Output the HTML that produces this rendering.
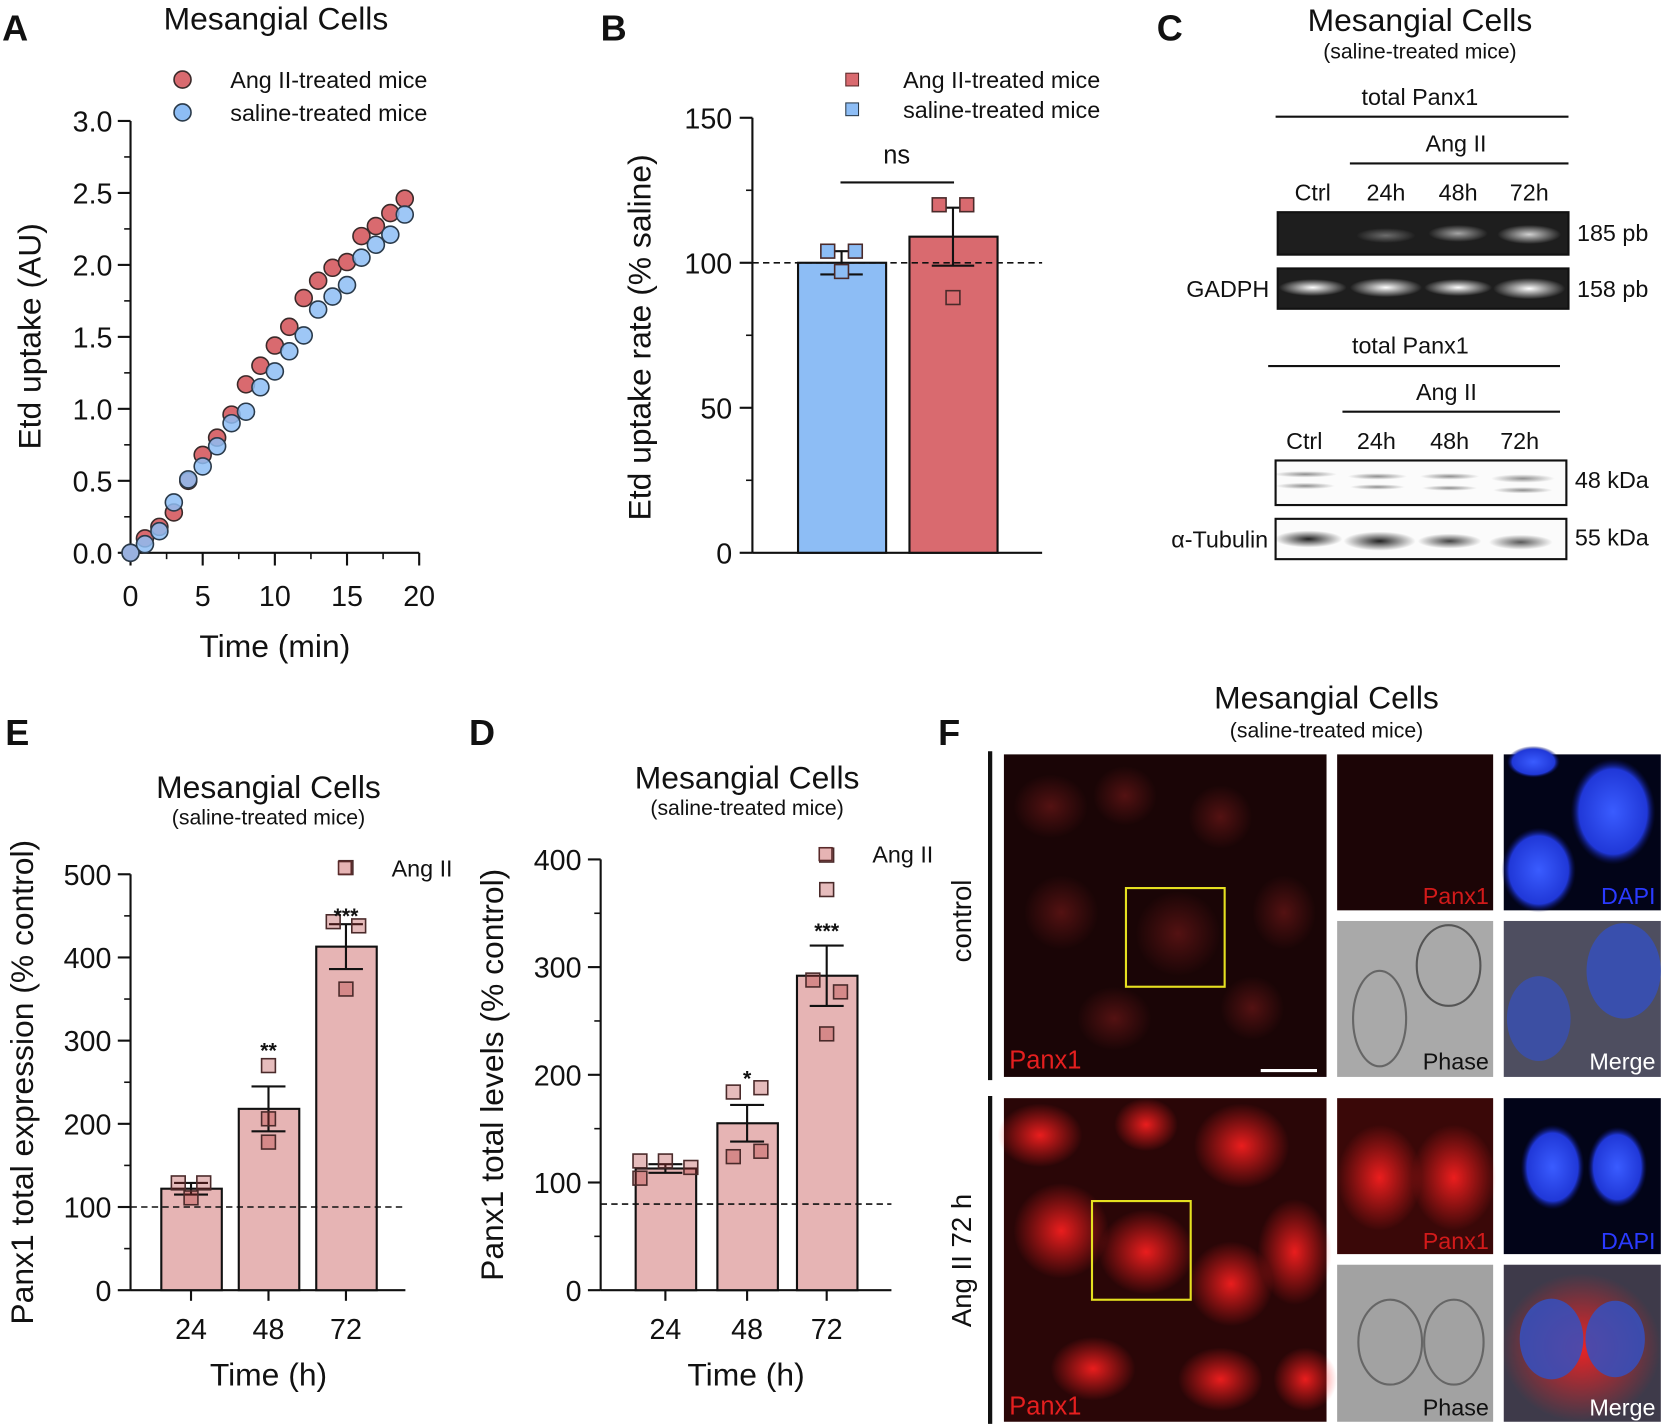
<!DOCTYPE html>
<html><head><meta charset="utf-8"><style>
html,body{margin:0;padding:0;background:#fff}
svg{display:block}
text{font-family:"Liberation Sans",Arial,sans-serif;fill:#111}
</style></head><body>
<svg id="fig" width="1664" height="1426" viewBox="0 0 1568 1344" preserveAspectRatio="none" xmlns="http://www.w3.org/2000/svg">
<defs>
<radialGradient id="band" cx="50%" cy="50%" r="50%"><stop offset="0" stop-color="#fff"/><stop offset="1" stop-color="#fff" stop-opacity="0"/></radialGradient>
<radialGradient id="dband" cx="50%" cy="50%" r="50%"><stop offset="0" stop-color="#222"/><stop offset="1" stop-color="#222" stop-opacity="0"/></radialGradient>
<radialGradient id="redspot" cx="50%" cy="50%" r="50%"><stop offset="0" stop-color="#ff2020" stop-opacity=".9"/><stop offset="1" stop-color="#ff2020" stop-opacity="0"/></radialGradient>
<radialGradient id="dimspot" cx="50%" cy="50%" r="50%"><stop offset="0" stop-color="#7a1a1a" stop-opacity=".6"/><stop offset="1" stop-color="#7a1a1a" stop-opacity="0"/></radialGradient>
<radialGradient id="nuc" cx="50%" cy="50%" r="50%"><stop offset="0" stop-color="#3a5cff"/><stop offset=".8" stop-color="#2038d8"/><stop offset="1" stop-color="#0a1060" stop-opacity="0"/></radialGradient>
</defs>

<text x="2" y="38" font-size="34" font-weight="bold">A</text>
<text x="566" y="38" font-size="34" font-weight="bold">B</text>
<text x="1090" y="38" font-size="34" font-weight="bold">C</text>
<text x="5" y="702" font-size="34" font-weight="bold">E</text>
<text x="442" y="702" font-size="34" font-weight="bold">D</text>
<text x="884" y="702" font-size="34" font-weight="bold">F</text>

<g id="pA"></g>
<g id="pB"></g>
<g id="pE"></g>
<g id="pD"></g>

<g>
<text x="1338" y="29" font-size="30" text-anchor="middle">Mesangial Cells</text>
<text x="1338" y="55" font-size="20" text-anchor="middle">(saline-treated mice)</text>
<text x="1338" y="99" font-size="22" text-anchor="middle">total Panx1</text>
<line x1="1202" y1="110" x2="1478" y2="110" stroke="#111" stroke-width="2"/>
<text x="1372" y="143" font-size="22" text-anchor="middle">Ang II</text>
<line x1="1272" y1="154" x2="1478" y2="154" stroke="#111" stroke-width="2"/>
<text x="1237" y="189" font-size="22" text-anchor="middle">Ctrl</text>
<text x="1306" y="189" font-size="22" text-anchor="middle">24h</text>
<text x="1374" y="189" font-size="22" text-anchor="middle">48h</text>
<text x="1441" y="189" font-size="22" text-anchor="middle">72h</text>
<rect x="1204" y="200" width="274" height="40" fill="#1e1e1e" stroke="#111" stroke-width="2"/>
<ellipse cx="1306" cy="222" rx="28" ry="7" fill="url(#band)" opacity=".35"/>
<ellipse cx="1374" cy="220" rx="28" ry="8" fill="url(#band)" opacity=".6"/>
<ellipse cx="1441" cy="221" rx="30" ry="9" fill="url(#band)" opacity=".8"/>
<text x="1486" y="227" font-size="22">185 pb</text>
<rect x="1204" y="253" width="274" height="38" fill="#1e1e1e" stroke="#111" stroke-width="2"/>
<ellipse cx="1237" cy="271" rx="32" ry="8" fill="url(#band)"/>
<ellipse cx="1306" cy="271" rx="34" ry="9" fill="url(#band)"/>
<ellipse cx="1374" cy="271" rx="32" ry="8" fill="url(#band)"/>
<ellipse cx="1441" cy="272" rx="34" ry="10" fill="url(#band)"/>
<text x="1196" y="280" font-size="22" text-anchor="end">GADPH</text>
<text x="1486" y="280" font-size="22">158 pb</text>
<text x="1329" y="333" font-size="22" text-anchor="middle">total Panx1</text>
<line x1="1195" y1="345" x2="1470" y2="345" stroke="#111" stroke-width="2"/>
<text x="1363" y="377" font-size="22" text-anchor="middle">Ang II</text>
<line x1="1265" y1="388" x2="1470" y2="388" stroke="#111" stroke-width="2"/>
<text x="1229" y="423" font-size="22" text-anchor="middle">Ctrl</text>
<text x="1297" y="423" font-size="22" text-anchor="middle">24h</text>
<text x="1366" y="423" font-size="22" text-anchor="middle">48h</text>
<text x="1432" y="423" font-size="22" text-anchor="middle">72h</text>
<rect x="1202" y="434" width="274" height="42" fill="#fbfbfb" stroke="#111" stroke-width="2"/>
<g opacity=".5">
<ellipse cx="1230" cy="447" rx="30" ry="3" fill="url(#dband)"/><ellipse cx="1230" cy="458" rx="28" ry="3" fill="url(#dband)"/>
<ellipse cx="1298" cy="449" rx="28" ry="3" fill="url(#dband)"/><ellipse cx="1298" cy="459" rx="26" ry="2.5" fill="url(#dband)"/>
<ellipse cx="1366" cy="449" rx="28" ry="3" fill="url(#dband)"/><ellipse cx="1366" cy="460" rx="26" ry="2.5" fill="url(#dband)"/>
<ellipse cx="1435" cy="451" rx="30" ry="4" fill="url(#dband)"/><ellipse cx="1435" cy="462" rx="28" ry="3" fill="url(#dband)"/>
</g>
<text x="1484" y="460" font-size="22">48 kDa</text>
<rect x="1202" y="489" width="274" height="38" fill="#fbfbfb" stroke="#111" stroke-width="2"/>
<ellipse cx="1233" cy="508" rx="32" ry="8" fill="url(#dband)"/>
<ellipse cx="1300" cy="510" rx="34" ry="9" fill="url(#dband)"/>
<ellipse cx="1366" cy="510" rx="30" ry="7" fill="url(#dband)" opacity=".85"/>
<ellipse cx="1433" cy="511" rx="30" ry="7" fill="url(#dband)" opacity=".75"/>
<text x="1195" y="516" font-size="22" text-anchor="end">α-Tubulin</text>
<text x="1484" y="514" font-size="22">55 kDa</text>
</g>

<g>
<text x="1250" y="668" font-size="30" text-anchor="middle">Mesangial Cells</text>
<text x="1250" y="695" font-size="20" text-anchor="middle">(saline-treated mice)</text>
<line x1="933" y1="708" x2="933" y2="1018" stroke="#111" stroke-width="4"/>
<line x1="933" y1="1033" x2="933" y2="1342" stroke="#111" stroke-width="4"/>
<text transform="translate(915,868) rotate(-90)" font-size="26" text-anchor="middle">control</text>
<text transform="translate(915,1188) rotate(-90)" font-size="26" text-anchor="middle">Ang II 72 h</text>
<rect x="946" y="711" width="304" height="304" fill="#1a0506"/>
<g fill="url(#dimspot)">
<ellipse cx="990" cy="760" rx="35" ry="30"/><ellipse cx="1060" cy="750" rx="30" ry="28"/><ellipse cx="1150" cy="770" rx="30" ry="30"/>
<ellipse cx="1000" cy="860" rx="35" ry="35"/><ellipse cx="1110" cy="880" rx="40" ry="40"/><ellipse cx="1210" cy="860" rx="30" ry="35"/>
<ellipse cx="1050" cy="960" rx="35" ry="30"/><ellipse cx="1180" cy="950" rx="30" ry="30"/></g>
<rect x="1061" y="837" width="93" height="93" fill="none" stroke="#e6e020" stroke-width="2"/>
<line x1="1188" y1="1009" x2="1241" y2="1009" stroke="#fff" stroke-width="3"/>
<text x="951" y="1007" font-size="24" style="fill:#e51f1f">Panx1</text>
<rect x="1260" y="711" width="147" height="147" fill="#1c0506"/>
<text x="1403" y="852" font-size="22" text-anchor="end" style="fill:#d21a1a">Panx1</text>
<rect x="1417" y="711" width="148" height="147" fill="#020418"/>
<ellipse cx="1445" cy="718" rx="25" ry="15" fill="url(#nuc)"/><ellipse cx="1520" cy="765" rx="40" ry="50" fill="url(#nuc)"/><ellipse cx="1450" cy="820" rx="35" ry="40" fill="url(#nuc)"/>
<text x="1560" y="852" font-size="22" text-anchor="end" style="fill:#2a3aff">DAPI</text>
<rect x="1260" y="868" width="147" height="147" fill="#a9a9a9"/>
<ellipse cx="1365" cy="910" rx="30" ry="38" fill="none" stroke="#555" stroke-width="2"/><ellipse cx="1300" cy="960" rx="25" ry="45" fill="none" stroke="#666" stroke-width="2"/>
<text x="1403" y="1008" font-size="22" text-anchor="end" style="fill:#111">Phase</text>
<rect x="1417" y="868" width="148" height="147" fill="#4e4e60"/>
<ellipse cx="1530" cy="915" rx="35" ry="45" fill="#3550c0" opacity=".8"/><ellipse cx="1450" cy="960" rx="30" ry="40" fill="#3550c0" opacity=".7"/>
<text x="1560" y="1008" font-size="22" text-anchor="end" style="fill:#fff">Merge</text>
<rect x="946" y="1035" width="304" height="305" fill="#2a0607"/>
<g fill="url(#redspot)">
<ellipse cx="980" cy="1070" rx="40" ry="30"/><ellipse cx="1080" cy="1060" rx="30" ry="25"/><ellipse cx="1170" cy="1080" rx="45" ry="40"/>
<ellipse cx="1220" cy="1180" rx="35" ry="50"/><ellipse cx="1000" cy="1160" rx="45" ry="45"/><ellipse cx="1080" cy="1180" rx="45" ry="40"/>
<ellipse cx="1160" cy="1210" rx="40" ry="40"/><ellipse cx="1030" cy="1290" rx="40" ry="30"/><ellipse cx="1150" cy="1300" rx="40" ry="30"/><ellipse cx="1230" cy="1300" rx="30" ry="30"/></g>
<rect x="1029" y="1132" width="93" height="93" fill="none" stroke="#e6e020" stroke-width="2"/>
<text x="951" y="1333" font-size="24" style="fill:#e51f1f">Panx1</text>
<rect x="1260" y="1035" width="147" height="147" fill="#3a0808"/>
<ellipse cx="1300" cy="1110" rx="40" ry="50" fill="url(#redspot)"/><ellipse cx="1370" cy="1110" rx="40" ry="50" fill="url(#redspot)"/>
<text x="1403" y="1177" font-size="22" text-anchor="end" style="fill:#d21a1a">Panx1</text>
<rect x="1417" y="1035" width="148" height="147" fill="#020418"/>
<ellipse cx="1463" cy="1100" rx="30" ry="40" fill="url(#nuc)"/><ellipse cx="1524" cy="1100" rx="28" ry="38" fill="url(#nuc)"/>
<text x="1560" y="1177" font-size="22" text-anchor="end" style="fill:#2a3aff">DAPI</text>
<rect x="1260" y="1192" width="147" height="148" fill="#a2a2a2"/>
<ellipse cx="1310" cy="1265" rx="30" ry="40" fill="none" stroke="#666" stroke-width="2"/><ellipse cx="1370" cy="1265" rx="28" ry="40" fill="none" stroke="#666" stroke-width="2"/>
<text x="1403" y="1334" font-size="22" text-anchor="end" style="fill:#111">Phase</text>
<rect x="1417" y="1192" width="148" height="148" fill="#3e3a4a"/>
<ellipse cx="1490" cy="1270" rx="75" ry="70" fill="url(#redspot)"/>
<ellipse cx="1462" cy="1262" rx="30" ry="38" fill="#3550c0" opacity=".85"/><ellipse cx="1522" cy="1262" rx="28" ry="36" fill="#3550c0" opacity=".85"/>
<text x="1560" y="1334" font-size="22" text-anchor="end" style="fill:#fff">Merge</text>
</g>
</svg>
<script>
// ---- Panel A data ----
const aTimes = [0,1,2,3,4,5,6,7,8,9,10,11,12,13,14,15,16,17,18,19];
const aAngII = [0,0.1,0.18,0.28,0.5,0.68,0.8,0.96,1.17,1.3,1.44,1.57,1.77,1.89,1.98,2.02,2.2,2.27,2.36,2.46];
const aSaline = [0,0.06,0.15,0.35,0.51,0.6,0.74,0.9,0.98,1.15,1.26,1.4,1.51,1.69,1.78,1.86,2.05,2.14,2.21,2.35];
const aXTicks = [0,5,10,15,20];
const aYTicks = ["0.0","0.5","1.0","1.5","2.0","2.5","3.0"];
// ---- Panel B data ----
const bGroups = ["saline","Ang II"];
const bMeans = [100,109];
const bSem = [4,10];
const bPoints = [[104,104,97],[120,120,88]];
const bYTicks = [0,50,100,150];
// ---- Panel E data ----
const eCats = ["24","48","72"];
const eMeans = [122,218,413];
const eSem = [7,27,27];
const ePoints = [[129,129,111],[270,206,178],[508,443,438,362]];
const eStars = ["","**","***"];
const eStarLevel = [0,295,457];
const eYTicks = [0,100,200,300,400,500];
// ---- Panel D data ----
const dCats = ["24","48","72"];
const dMeans = [113,155,292];
const dSem = [4,17,28];
const dPoints = [[120,120,114,104],[184,188,124,129],[404,372,288,277,238]];
const dStars = ["","*","***"];
const dStarLevel = [0,202,339];
const dYTicks = [0,100,200,300,400];
// horizontal jitter (layout only, px)
const eJitter = [[-12,12,0],[0,0,0],[0,-12,12,0]];
const dJitter = [[-24,0,24,-24],[-13,13,-13,13],[0,0,-13,13,0]];

const NS="http://www.w3.org/2000/svg";
function el(parent,tag,attrs,txt){const e=document.createElementNS(NS,tag);for(const k in attrs)e.setAttribute(k,attrs[k]);if(txt!==undefined)e.textContent=txt;parent.appendChild(e);return e;}

(function(){
  const g=document.getElementById('pA');
  const x=v=>123+(v/20)*272, y=v=>521-(v/3)*407;
  el(g,'text',{x:260,y:28,'font-size':30,'text-anchor':'middle'},'Mesangial Cells');
  el(g,'line',{x1:123,y1:114,x2:123,y2:521,stroke:'#111','stroke-width':2});
  el(g,'line',{x1:123,y1:521,x2:395,y2:521,stroke:'#111','stroke-width':2});
  aYTicks.forEach(t=>{const v=+t;el(g,'line',{x1:111,y1:y(v),x2:123,y2:y(v),stroke:'#111','stroke-width':2});
    if(v<3)el(g,'line',{x1:117,y1:y(v+0.25),x2:123,y2:y(v+0.25),stroke:'#111','stroke-width':1.5});
    el(g,'text',{x:106,y:y(v)+10,'font-size':27,'text-anchor':'end'},t);});
  aXTicks.forEach(t=>{el(g,'line',{x1:x(t),y1:521,x2:x(t),y2:533,stroke:'#111','stroke-width':2});
    if(t<20)el(g,'line',{x1:x(t+2.5),y1:521,x2:x(t+2.5),y2:527,stroke:'#111','stroke-width':1.5});
    el(g,'text',{x:x(t),y:571,'font-size':27,'text-anchor':'middle'},String(t));});
  el(g,'text',{x:259,y:619,'font-size':30,'text-anchor':'middle'},'Time (min)');
  el(g,'text',{transform:'translate(38,317) rotate(-90)','font-size':30,'text-anchor':'middle'},'Etd uptake (AU)');
  aTimes.forEach((t,i)=>{const c=el(g,'circle',{cx:x(t),cy:y(aAngII[i]),r:8,fill:'#d96a6f',stroke:'#3a2a2a','stroke-width':1.5});
    
    });
  aTimes.forEach((t,i)=>{const c=el(g,'circle',{cx:x(t),cy:y(aSaline[i]),r:8,fill:'#8dbdf5','fill-opacity':0.85,stroke:'#2a3a4a','stroke-width':1.5});
    
    });
  el(g,'circle',{cx:172,cy:75,r:8,fill:'#d96a6f',stroke:'#3a2a2a','stroke-width':1.5});
  el(g,'text',{x:217,y:83,'font-size':22},'Ang II-treated mice');
  el(g,'circle',{cx:172,cy:106,r:8,fill:'#8dbdf5',stroke:'#2a3a4a','stroke-width':1.5});
  el(g,'text',{x:217,y:114,'font-size':22},'saline-treated mice');
})();

function errbar(g,cx,ylo,yhi,w){
  el(g,'line',{x1:cx,y1:yhi,x2:cx,y2:ylo,stroke:'#111','stroke-width':2});
  el(g,'line',{x1:cx-w,y1:yhi,x2:cx+w,y2:yhi,stroke:'#111','stroke-width':2});
  el(g,'line',{x1:cx-w,y1:ylo,x2:cx+w,y2:ylo,stroke:'#111','stroke-width':2});
}
function sq(g,cx,cy,fill,op,name){const r=el(g,'rect',{x:cx-6.5,y:cy-6.5,width:13,height:13,fill:fill,'fill-opacity':op,stroke:'#4a2a2a','stroke-width':1.5});
  
  }

(function(){
  const g=document.getElementById('pB');
  const y=v=>521-(v/150)*410;
  const cx=[793,898], fills=['#8dbdf5','#d96a6f'];
  el(g,'line',{x1:709,y1:111,x2:709,y2:521,stroke:'#111','stroke-width':2});
  el(g,'line',{x1:709,y1:521,x2:982,y2:521,stroke:'#111','stroke-width':2});
  bYTicks.forEach(t=>{el(g,'line',{x1:697,y1:y(t),x2:709,y2:y(t),stroke:'#111','stroke-width':2});
    if(t<150)el(g,'line',{x1:703,y1:y(t+25),x2:709,y2:y(t+25),stroke:'#111','stroke-width':1.5});
    el(g,'text',{x:690,y:y(t)+10,'font-size':27,'text-anchor':'end'},String(t));});
  el(g,'text',{transform:'translate(613,318) rotate(-90)','font-size':30,'text-anchor':'middle'},'Etd uptake rate (% saline)');
  bMeans.forEach((m,i)=>{const r=el(g,'rect',{x:cx[i]-41,y:y(m),width:83,height:521-y(m),fill:fills[i],stroke:'#111','stroke-width':2});
    
    
    errbar(g,cx[i],y(m-bSem[i]),y(m+bSem[i]),20);});
  el(g,'line',{x1:709,y1:y(100),x2:982,y2:y(100),stroke:'#111','stroke-width':1.5,'stroke-dasharray':'6,4'});
  const off=[[-13,13,0],[-13,13,0]];
  bPoints.forEach((ps,i)=>ps.forEach((p,j)=>sq(g,cx[i]+off[i][j],y(p),fills[i],1,'b-point')));
  el(g,'line',{x1:792,y1:172,x2:899,y2:172,stroke:'#111','stroke-width':2});
  el(g,'text',{x:845,y:154,'font-size':24,'text-anchor':'middle'},'ns');
  el(g,'rect',{x:797,y:69,width:12,height:12,fill:'#d96a6f',stroke:'#5a2a2a'});
  el(g,'text',{x:851,y:83,'font-size':22},'Ang II-treated mice');
  el(g,'rect',{x:797,y:97,width:12,height:12,fill:'#8dbdf5',stroke:'#2a3a4a'});
  el(g,'text',{x:851,y:111,'font-size':22},'saline-treated mice');
})();

function barPanel(id,ax,y0,yTop,vmax,cx,cats,means,sem,points,jit,stars,starLv,ticks,dash,ylab,titleX,titleY,legX,legY,xEnd,minor){
  const g=document.getElementById(id);
  const y=v=>y0-(v/vmax)*(y0-yTop);
  const fill='#e6b4b4';
  el(g,'text',{x:titleX,y:titleY,'font-size':30,'text-anchor':'middle'},'Mesangial Cells');
  el(g,'text',{x:titleX,y:titleY+25,'font-size':20,'text-anchor':'middle'},'(saline-treated mice)');
  el(g,'line',{x1:ax,y1:yTop,x2:ax,y2:y0,stroke:'#111','stroke-width':2});
  el(g,'line',{x1:ax,y1:y0,x2:xEnd,y2:y0,stroke:'#111','stroke-width':2});
  ticks.forEach(t=>{el(g,'line',{x1:ax-12,y1:y(t),x2:ax,y2:y(t),stroke:'#111','stroke-width':2});
    if(t<vmax)el(g,'line',{x1:ax-6,y1:y(t+minor),x2:ax,y2:y(t+minor),stroke:'#111','stroke-width':1.5});
    el(g,'text',{x:ax-18,y:y(t)+10,'font-size':27,'text-anchor':'end'},String(t));});
  el(g,'text',{transform:'translate('+(ax-92)+','+((y0+yTop)/2)+') rotate(-90)','font-size':30,'text-anchor':'middle'},ylab);
  means.forEach((m,i)=>{const r=el(g,'rect',{x:cx[i]-28,y:y(m),width:57,height:y0-y(m),fill:fill,stroke:'#111','stroke-width':2});
    
    
    el(g,'line',{x1:cx[i],y1:y0,x2:cx[i],y2:y0+10,stroke:'#111','stroke-width':2});
    el(g,'text',{x:cx[i],y:y0+46,'font-size':27,'text-anchor':'middle'},cats[i]);});
  el(g,'line',{x1:ax,y1:y(dash),x2:xEnd,y2:y(dash),stroke:'#111','stroke-width':1.5,'stroke-dasharray':'6,4'});
  means.forEach((m,i)=>{
    errbar(g,cx[i],y(m-sem[i]),y(m+sem[i]),16);
    points[i].forEach((p,j)=>sq(g,cx[i]+jit[i][j],y(p),'#b03030',0.32,'point-'+cats[i]+'h'));
    if(stars[i]) el(g,'text',{x:cx[i],y:y(starLv[i])+12,'font-size':20,'font-weight':'bold','text-anchor':'middle'},stars[i]);
  });
  el(g,'text',{x:(cx[0]+cx[2])/2,y:y0+90,'font-size':30,'text-anchor':'middle'},'Time (h)');
  el(g,'rect',{x:legX-6,y:legY-6,width:12,height:12,fill:fill,stroke:'#5a2a2a','stroke-width':1.5});
  el(g,'text',{x:legX+44,y:legY+8,'font-size':22},'Ang II');
}
barPanel('pE',123,1216,824,500,[180,253,326],eCats,eMeans,eSem,ePoints,eJitter,eStars,eStarLevel,eYTicks,100,'Panx1 total expression (% control)',253,752,325,818,382,50);
barPanel('pD',566,1216,810,400,[627,704,779],dCats,dMeans,dSem,dPoints,dJitter,dStars,dStarLevel,dYTicks,80,'Panx1 total levels (% control)',704,743,778,805,840,50);
</script>
</body></html>
